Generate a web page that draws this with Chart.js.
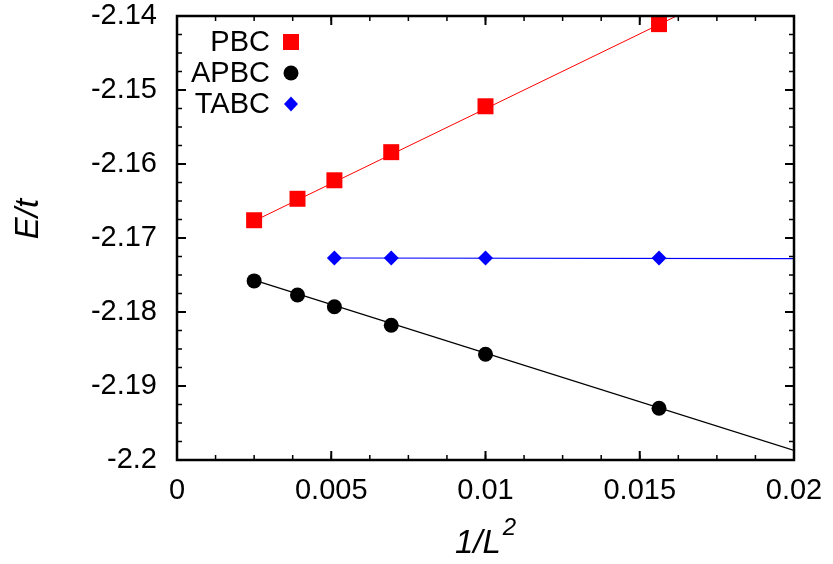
<!DOCTYPE html>
<html>
<head>
<meta charset="utf-8">
<script src="https://cdn.jsdelivr.net/npm/chart.js@4.4.1/dist/chart.umd.min.js"></script>
<style>
  html, body { margin: 0; padding: 0; background: #fff; }
  #wrap { width: 833px; height: 564px; }
</style>
</head>
<body>
<div id="wrap"><canvas id="chart"></canvas></div>
<script>
// 1/L^2 for L = 20, 16, 14, 12, 10, 8
const invL2 = [0.0025, 0.00390625, 0.00510204, 0.00694444, 0.01, 0.015625];
const pbcE  = [-2.1676, -2.1647, -2.1622, -2.1584, -2.1522, -2.1411];
const apbcE = [-2.1758, -2.1777, -2.1793, -2.1818, -2.1857, -2.1930];
const tabcX = [0.00510204, 0.00694444, 0.01, 0.015625];
const tabcE = [-2.1727, -2.1727, -2.1727, -2.1727];

// linear fits (end points)
const pbcFitX  = [0.0025, 0.02];
const pbcFitE  = [-2.1677, -2.1323];
const apbcFitX = [0.0025, 0.02];
const apbcFitE = [-2.1757, -2.1987];
const tabcFitX = [0.0051, 0.02];
const tabcFitE = [-2.1727, -2.1728];

const xTicks = [0, 0.005, 0.01, 0.015, 0.02];
const yTicks = [-2.2, -2.19, -2.18, -2.17, -2.16, -2.15, -2.14];
const xMinorStep = 0.00125;
const yMinorStep = 0.0025;

const FONT = '"Liberation Sans", Arial, sans-serif';

function pts(xs, ys) {
    return xs.map((x, i) => ({ x: x, y: ys[i] }));
}

// Moldura com marcas para dentro (estilo gnuplot), títulos dos eixos e legenda
const framePlugin = {
    id: 'frame',
    afterDraw(chart) {
        const ctx = chart.ctx;
        const a = chart.chartArea;
        const xs = chart.scales.x;
        const ys = chart.scales.y;
        ctx.save();
        ctx.strokeStyle = '#000';

        // marcas menores
        ctx.lineWidth = 1.5;
        ctx.beginPath();
        for (let v = xs.min; v <= xs.max + 1e-9; v += xMinorStep) {
            const px = xs.getPixelForValue(v);
            ctx.moveTo(px, a.bottom); ctx.lineTo(px, a.bottom - 5);
            ctx.moveTo(px, a.top); ctx.lineTo(px, a.top + 5);
        }
        for (let v = ys.min; v <= ys.max + 1e-9; v += yMinorStep) {
            const py = ys.getPixelForValue(v);
            ctx.moveTo(a.left, py); ctx.lineTo(a.left + 5, py);
            ctx.moveTo(a.right, py); ctx.lineTo(a.right - 5, py);
        }
        ctx.stroke();

        // marcas maiores
        ctx.lineWidth = 2;
        ctx.beginPath();
        xTicks.forEach(v => {
            const px = xs.getPixelForValue(v);
            ctx.moveTo(px, a.bottom); ctx.lineTo(px, a.bottom - 9);
            ctx.moveTo(px, a.top); ctx.lineTo(px, a.top + 9);
        });
        yTicks.forEach(v => {
            const py = ys.getPixelForValue(v);
            ctx.moveTo(a.left, py); ctx.lineTo(a.left + 9, py);
            ctx.moveTo(a.right, py); ctx.lineTo(a.right - 9, py);
        });
        ctx.stroke();

        // moldura
        ctx.lineWidth = 2.5;
        ctx.strokeRect(a.left, a.top, a.right - a.left, a.bottom - a.top);

        // título do eixo y
        ctx.fillStyle = '#000';
        ctx.font = 'italic 33px ' + FONT;
        ctx.textAlign = 'center';
        ctx.textBaseline = 'middle';
        ctx.save();
        ctx.translate(29, 219);
        ctx.rotate(-Math.PI / 2);
        ctx.fillText('E/t', 0, 0);
        ctx.restore();

        // título do eixo x: 1/L^2
        ctx.textAlign = 'left';
        ctx.textBaseline = 'alphabetic';
        ctx.font = 'italic 33px ' + FONT;
        const base = '1/L';
        const w = ctx.measureText(base).width;
        ctx.font = 'italic 24px ' + FONT;
        const w2 = ctx.measureText('2').width;
        const x0 = (a.left + a.right) / 2 - (w + w2 + 2) / 2;
        ctx.font = 'italic 33px ' + FONT;
        ctx.fillText(base, x0, 553);
        ctx.font = 'italic 24px ' + FONT;
        ctx.fillText('2', x0 + w + 2, 535);

        // legenda
        const items = [
            { label: 'PBC', y: 42, style: 'rect', color: '#ff0000' },
            { label: 'APBC', y: 73, style: 'circle', color: '#000000' },
            { label: 'TABC', y: 104, style: 'diamond', color: '#0000ff' }
        ];
        ctx.font = '29px ' + FONT;
        ctx.textAlign = 'right';
        ctx.textBaseline = 'middle';
        items.forEach(it => {
            ctx.fillStyle = '#000';
            ctx.fillText(it.label, 270, it.y + 1);
            ctx.fillStyle = it.color;
            const mx = 291;
            ctx.beginPath();
            if (it.style === 'rect') {
                ctx.rect(mx - 8, it.y - 8, 16, 16);
            } else if (it.style === 'circle') {
                ctx.arc(mx, it.y, 7.5, 0, Math.PI * 2);
            } else {
                ctx.moveTo(mx, it.y - 7.5);
                ctx.lineTo(mx + 7, it.y);
                ctx.lineTo(mx, it.y + 7.5);
                ctx.lineTo(mx - 7, it.y);
                ctx.closePath();
            }
            ctx.fill();
        });
        ctx.restore();
    }
};

const fmt = v => String(parseFloat(Number(v).toFixed(4)));

new Chart(document.getElementById('chart'), {
    type: 'scatter',
    data: {
        datasets: [
            { data: pts(pbcFitX, pbcFitE), showLine: true, borderColor: '#ff0000', borderWidth: 1, pointRadius: 0 },
            { data: pts(apbcFitX, apbcFitE), showLine: true, borderColor: '#000000', borderWidth: 1.2, pointRadius: 0 },
            { data: pts(tabcFitX, tabcFitE), showLine: true, borderColor: '#0000ff', borderWidth: 1.2, pointRadius: 0 },
            { label: 'PBC', data: pts(invL2, pbcE), pointStyle: 'rect', pointRadius: 11.3,
              backgroundColor: '#ff0000', borderWidth: 0 },
            { label: 'APBC', data: pts(invL2, apbcE), pointStyle: 'circle', pointRadius: 7.5,
              backgroundColor: '#000000', borderWidth: 0 },
            { label: 'TABC', data: pts(tabcX, tabcE), pointStyle: 'rectRot', pointRadius: 7.5,
              backgroundColor: '#0000ff', borderWidth: 0 }
        ]
    },
    options: {
        responsive: true,
        maintainAspectRatio: false,
        animation: false,
        events: [],
        layout: { padding: { top: 16, right: 39, left: 0, bottom: 0 } },
        plugins: {
            legend: { display: false },
            tooltip: { enabled: false }
        },
        scales: {
            x: {
                type: 'linear',
                min: 0,
                max: 0.02,
                afterBuildTicks: s => { s.ticks = xTicks.map(v => ({ value: v })); },
                afterFit: s => { s.height = 104; s.paddingLeft = 0; s.paddingRight = 0; },
                grid: { display: false, drawTicks: false },
                border: { display: false },
                ticks: { padding: 14, color: '#000', font: { family: FONT, size: 29 }, callback: fmt, maxRotation: 0 }
            },
            y: {
                type: 'linear',
                min: -2.2,
                max: -2.14,
                afterBuildTicks: s => { s.ticks = yTicks.map(v => ({ value: v })); },
                afterFit: s => { s.width = 177; s.paddingTop = 0; s.paddingBottom = 0; },
                grid: { display: false, drawTicks: false },
                border: { display: false },
                ticks: { padding: 20, color: '#000', font: { family: FONT, size: 29 }, callback: fmt }
            }
        }
    },
    plugins: [framePlugin]
});
</script>
</body>
</html>
